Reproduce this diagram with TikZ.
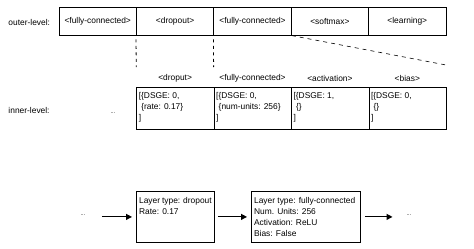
\documentclass[tikz,border=0pt]{standalone}
\usepackage{fontspec}
\setmainfont{Liberation Sans}
\usetikzlibrary{arrows.meta}
\begin{document}
\begin{tikzpicture}[x=1pt,y=-1pt,
  fnt/.style={font=\fontsize{8.4}{11}\selectfont},
  txt/.style={fnt, inner sep=0pt},
  dots/.style={font=\fontsize{5.5}{6}\selectfont, inner sep=0pt},
  obox/.style={fnt, draw, line width=0.8pt, minimum width=77.4pt, minimum height=27.7pt, inner sep=0pt},
  ibox/.style={fnt, draw, line width=0.8pt, anchor=north west, inner xsep=2pt, inner ysep=3.3pt},
  bbox/.style={fnt, draw, line width=0.8pt, anchor=north west, inner xsep=2.7pt, inner ysep=4.8pt},
  arr/.style={line width=1.1pt, -{Triangle[length=6pt,width=6pt]}},
  dsh/.style={line width=0.8pt, dash pattern=on 3pt off 3.5pt},
  dshd/.style={line width=0.6pt, dash pattern=on 4pt off 4pt}
]
\useasboundingbox (0,0) rectangle (474,249);

% outer level
\node[txt, anchor=west] (outl) at (8.3,22.5) {outer-level:};
\node[obox] (o1) at (97.7,21.15) {<fully-connected>};
\node[obox] (o2) at (175.1,21.15) {<dropout>};
\node[obox] (o3) at (252.5,21.15) {<fully-connected>};
\node[obox] (o4) at (329.9,21.15) {<softmax>};
\node[obox] (o5) at (407.3,21.15) {<learning>};

% inner level
\node[txt, anchor=west] (inl) at (8.3,110.5) {inner-level:};
\node[dots] (d0) at (113,113) {...};

\node[ibox] (i1) at (136.4,87) {\parbox[t][35.7pt][t]{73.4pt}{\strut[\{DSGE: 0,\\\hspace*{2.5pt}\{rate: 0.17\}\\]}};
\node[ibox] (i2) at (213.8,87) {\parbox[t][35.7pt][t]{73.4pt}{\strut[\{DSGE: 0,\\\hspace*{2.5pt}\{num-units: 256\}\\]}};
\node[ibox] (i3) at (291.2,87) {\parbox[t][35.7pt][t]{73.4pt}{\strut[\{DSGE: 1,\\\hspace*{2.5pt}\{\}\\]}};
\node[ibox] (i4) at (368.6,87) {\parbox[t][35.7pt][t]{73.4pt}{\strut[\{DSGE: 0,\\\hspace*{2.5pt}\{\}\\]}};

\node[txt] (l1) at (175.1,78) {<droput>};
\node[txt] (l2) at (252.5,78) {<fully-connected>};
\node[txt] (l3) at (329.9,78) {<activation>};
\node[txt] (l4) at (407.3,78) {<bias>};

\coordinate (dend) at (446,65);
\draw[dsh, shorten <=4pt, shorten >=20pt] (o2.south west) -- (i1.north west);
\draw[dsh, shorten <=4pt, shorten >=20pt] (o3.south west) -- (i2.north west);
\draw[dshd, shorten <=1pt] (o4.south west) -- (dend);

% bottom row
\node[dots] (d1) at (83,215) {...};
\node[bbox] (b1) at (136,191) {\parbox[t][41.4pt][t]{72.6pt}{\strut Layer type: dropout\\Rate: 0.17}};
\node[bbox] (b2) at (251,191) {\parbox[t][41.4pt][t]{103.6pt}{\strut Layer type: fully-connected\\Num. Units: 256\\Activation: ReLU\\Bias: False}};
\node[dots] (d3) at (409,215) {...};

\draw[arr, shorten <=16.5pt, shorten >=4pt] (d1.east |- b1.west) -- (b1.west);
\draw[arr, shorten <=3pt, shorten >=4pt] (b1.east) -- (b2.west);
\draw[arr, shorten <=4pt, shorten >=14pt] (b2.east) -- (d3.west |- b2.east);
\end{tikzpicture}
\end{document}
